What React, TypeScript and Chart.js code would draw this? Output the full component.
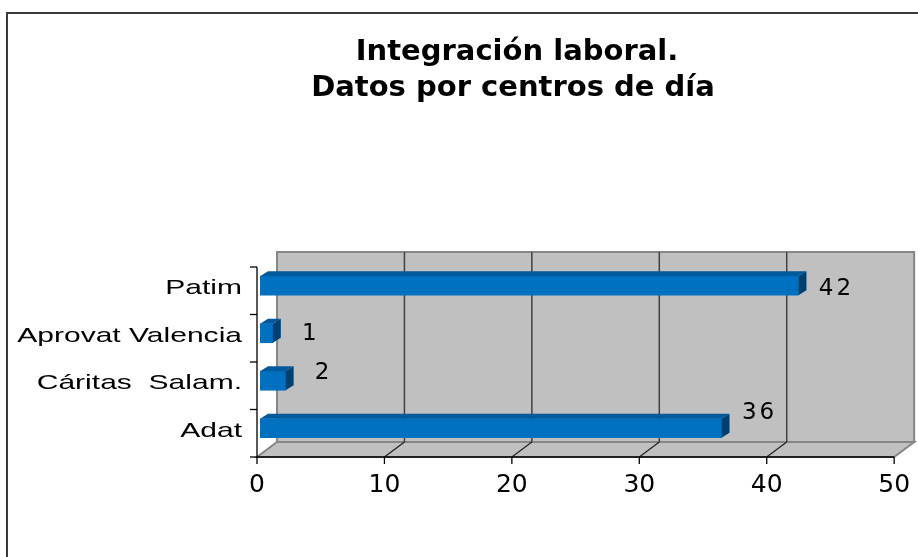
import React, { useEffect, useRef } from 'react';
import { Chart, registerables } from 'chart.js';

Chart.register(...registerables);

const titleLines = ['Integración laboral.', 'Datos por centros de día'];
const categories = ['Patim', 'Aprovat Valencia', 'Cáritas  Salam.', 'Adat'];
const values = [42, 1, 2, 36];
const xTicks = [0, 10, 20, 30, 40, 50];
// label vertical nudges (style only)
const labelShiftY = [3, 1, -8, -15];

const FRONT = { dx: -3, dy: 5, scale: 0.994 };
const BACK = { dx: 20, dy: -15 };
const DEPTH = { dx: 8, dy: -5 };

const scenePlugin = {
  id: 'scene3d',
  beforeDraw(chart: any) {
    const ctx = chart.ctx;
    ctx.save();
    ctx.fillStyle = '#ffffff';
    ctx.fillRect(0, 0, chart.width, chart.height);
    ctx.strokeStyle = '#3a3a3a';
    ctx.lineWidth = 2;
    ctx.beginPath();
    ctx.moveTo(7, chart.height + 5);
    ctx.lineTo(7, 13);
    ctx.lineTo(chart.width + 5, 13);
    ctx.stroke();
    ctx.restore();
  },
  beforeDatasetsDraw(chart: any) {
    const ctx = chart.ctx;
    const a = chart.chartArea;
    const xs = chart.scales.x;
    const fx = (v: number) => a.left + FRONT.dx + (xs.getPixelForValue(v) - a.left) * FRONT.scale;
    const fy0 = a.top + FRONT.dy;
    const fy1 = a.bottom + FRONT.dy;
    const xmin = xTicks[0];
    const xmax = xTicks[xTicks.length - 1];
    ctx.save();
    // back wall
    ctx.fillStyle = '#c0c0c0';
    ctx.strokeStyle = '#868686';
    ctx.lineWidth = 2;
    ctx.beginPath();
    ctx.rect(fx(xmin) + BACK.dx, fy0 + BACK.dy, fx(xmax) - fx(xmin), fy1 - fy0);
    ctx.fill();
    ctx.stroke();
    // floor
    ctx.beginPath();
    ctx.moveTo(fx(xmin), fy1);
    ctx.lineTo(fx(xmax), fy1);
    ctx.lineTo(fx(xmax) + BACK.dx, fy1 + BACK.dy);
    ctx.lineTo(fx(xmin) + BACK.dx, fy1 + BACK.dy);
    ctx.closePath();
    ctx.fill();
    ctx.stroke();
    // gridlines
    xTicks.slice(1, -1).forEach((v) => {
      const x = fx(v);
      ctx.strokeStyle = '#404040';
      ctx.lineWidth = 1.5;
      ctx.beginPath();
      ctx.moveTo(x + BACK.dx, fy0 + BACK.dy);
      ctx.lineTo(x + BACK.dx, fy1 + BACK.dy);
      ctx.stroke();
      ctx.strokeStyle = '#202020';
      ctx.lineWidth = 1.2;
      ctx.beginPath();
      ctx.moveTo(x, fy1);
      ctx.lineTo(x + BACK.dx, fy1 + BACK.dy);
      ctx.stroke();
    });
    ctx.restore();
  },
  afterDatasetsDraw(chart: any) {
    const ctx = chart.ctx;
    const meta = chart.getDatasetMeta(0);
    ctx.save();
    meta.data.forEach((el: any) => {
      const p = el.getProps(['x', 'y', 'base', 'height'], true);
      const t = p.y - p.height / 2;
      const b = p.y + p.height / 2;
      ctx.fillStyle = '#005a9b';
      ctx.beginPath();
      ctx.moveTo(p.base, t);
      ctx.lineTo(p.x, t);
      ctx.lineTo(p.x + DEPTH.dx, t + DEPTH.dy);
      ctx.lineTo(p.base + DEPTH.dx, t + DEPTH.dy);
      ctx.closePath();
      ctx.fill();
      ctx.fillStyle = '#003f6e';
      ctx.beginPath();
      ctx.moveTo(p.x, t);
      ctx.lineTo(p.x + DEPTH.dx, t + DEPTH.dy);
      ctx.lineTo(p.x + DEPTH.dx, b + DEPTH.dy);
      ctx.lineTo(p.x, b);
      ctx.closePath();
      ctx.fill();
    });
    ctx.restore();
  },
  afterDraw(chart: any) {
    const ctx = chart.ctx;
    const a = chart.chartArea;
    const xs = chart.scales.x;
    const ys = chart.scales.y;
    const fx = (v: number) => a.left + FRONT.dx + (xs.getPixelForValue(v) - a.left) * FRONT.scale;
    const fy0 = a.top + FRONT.dy;
    const fy1 = a.bottom + FRONT.dy;
    const xmin = xTicks[0];
    const xmax = xTicks[xTicks.length - 1];
    const pitch = (a.bottom - a.top) / categories.length;
    ctx.save();
    // axes
    ctx.strokeStyle = '#000000';
    ctx.lineWidth = 1.3;
    ctx.beginPath();
    ctx.moveTo(fx(xmin), fy0);
    ctx.lineTo(fx(xmin), fy1);
    ctx.lineTo(fx(xmax), fy1);
    ctx.stroke();
    for (let i = 0; i <= categories.length; i++) {
      const y = i < categories.length ? ys.getPixelForValue(i) - pitch / 2 + FRONT.dy : fy1;
      ctx.beginPath();
      ctx.moveTo(fx(xmin) - 7, y);
      ctx.lineTo(fx(xmin), y);
      ctx.stroke();
    }
    xTicks.forEach((v) => {
      ctx.beginPath();
      ctx.moveTo(fx(v), fy1);
      ctx.lineTo(fx(v), fy1 + 7);
      ctx.stroke();
    });
    // x tick labels
    ctx.fillStyle = '#000000';
    ctx.font = '25px "DejaVu Sans"';
    ctx.textAlign = 'center';
    ctx.textBaseline = 'alphabetic';
    xTicks.forEach((v) => {
      ctx.fillText(String(v), fx(v), fy1 + 35);
    });
    // category labels
    ctx.font = '21px "Liberation Sans", Arial, sans-serif';
    ctx.textAlign = 'right';
    ctx.textBaseline = 'middle';
    categories.forEach((c, i) => {
      ctx.save();
      ctx.translate(fx(xmin) - 15, ys.getPixelForValue(i) + 2.5);
      ctx.scale(1.43, 1);
      ctx.fillText(c, 0, 0);
      ctx.restore();
    });
    // data labels
    const meta = chart.getDatasetMeta(0);
    ctx.font = '23px "DejaVu Sans"';
    ctx.textAlign = 'center';
    ctx.textBaseline = 'middle';
    try { (ctx as any).letterSpacing = '3px'; } catch (e) {}
    meta.data.forEach((el: any, i: number) => {
      const p = el.getProps(['x', 'y'], true);
      ctx.fillText(String(values[i]), p.x + 38, p.y + labelShiftY[i]);
    });
    try { (ctx as any).letterSpacing = '0px'; } catch (e) {}
    // title
    ctx.font = 'bold 29px "DejaVu Sans"';
    ctx.textAlign = 'center';
    ctx.textBaseline = 'alphabetic';
    ctx.fillText(titleLines[0], 517, 60);
    ctx.fillText(titleLines[1], 513, 96);
    ctx.restore();
  },
};

export default function App() {
  const ref = useRef<HTMLCanvasElement | null>(null);
  useEffect(() => {
    if (!ref.current) return;
    const chart = new Chart(ref.current, {
      type: 'bar',
      data: {
        labels: categories,
        datasets: [
          {
            data: values,
            backgroundColor: '#0070c0',
            borderWidth: 0,
            barThickness: 19,
          },
        ],
      },
      options: {
        indexAxis: 'y',
        responsive: false,
        animation: false,
        devicePixelRatio: 1,
        layout: { padding: { left: 260, right: 17, top: 262, bottom: 105 } },
        scales: {
          x: { type: 'linear', min: xTicks[0], max: xTicks[xTicks.length - 1], display: false },
          y: { type: 'category', display: false, offset: true },
        },
        plugins: {
          legend: { display: false },
          title: { display: false },
          tooltip: { enabled: false },
        },
      },
      plugins: [scenePlugin],
    } as any);
    return () => chart.destroy();
  }, []);
  return (
    <div style={{ position: 'fixed', left: 0, top: 0, width: 918, height: 557, background: '#fff' }}>
      <canvas ref={ref} width={918} height={557} style={{ display: 'block' }} />
    </div>
  );
}
